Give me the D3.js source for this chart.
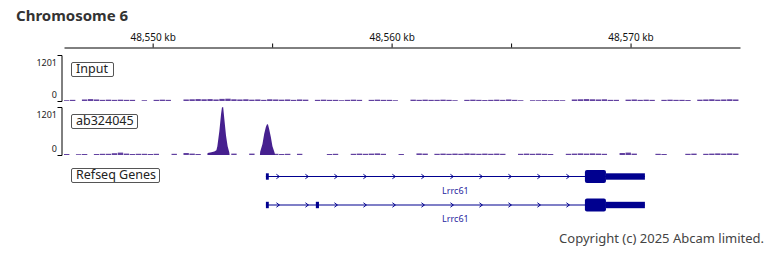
<!DOCTYPE html>
<html>
<head>
    <meta charset="utf-8">
    <title>Chromosome 6 tracks</title>
    <style>
        body { margin: 0; background: #fff; }
        svg { display: block; font-family: "Noto Sans", sans-serif; }
    </style>
    <script src="https://d3js.org/d3.v7.min.js"></script>
</head>
<body>
<div id="chart"></div>
<script>
    // 区间 (kb)
    const regionKb = [48546.29, 48574.58];
    const majorTicks = [48550, 48560, 48570];
    const minorTicks = [48555, 48565];
    const maxVal = 1201;
    const binKb = 0.25;

    // Input 背景信号, 每 0.25 kb 一个值
    const inputValues = [
        20, 30, 0, 40, 50, 40, 30, 35, 30, 35, 30, 30, 0, 20, 0, 30, 35, 30, 0, 0,
        40, 45, 50, 45, 50, 40, 55, 60, 45, 40, 45, 35, 40, 30, 45, 40, 35, 40, 30, 40,
        35, 0, 30, 35, 30, 30, 20, 30, 35, 30, 0, 30, 35, 30, 30, 20, 0, 0, 35, 30,
        35, 30, 30, 35, 30, 20, 0, 30, 35, 30, 25, 30, 35, 30, 40, 30, 20, 0, 20, 20,
        25, 20, 25, 20, 0, 40, 45, 50, 45, 40, 45, 30, 30, 0, 35, 40, 30, 35, 30, 0,
        30, 35, 30, 30, 25, 0, 35, 40, 45, 35, 40, 45, 40
    ];

    // ab324045 背景信号
    const abValues = [
        25, 0, 20, 25, 0, 25, 30, 30, 45, 60, 35, 25, 30, 30, 25, 30, 0, 0, 30, 0,
        50, 35, 25, 0, 0, 0, 0, 0, 35, 0, 0, 35, 0, 0, 0, 30, 25, 30, 0, 30,
        0, 0, 0, 0, 25, 30, 0, 0, 30, 35, 30, 35, 40, 30, 0, 0, 25, 0, 0, 40,
        35, 0, 30, 35, 30, 35, 30, 40, 35, 30, 35, 30, 35, 30, 0, 0, 30, 35, 30, 35,
        30, 25, 0, 0, 30, 35, 40, 35, 40, 35, 30, 0, 0, 50, 60, 35, 0, 0, 0, 30,
        25, 0, 0, 0, 30, 35, 0, 30, 35, 40, 35, 40, 35
    ];

    // ab324045 两个峰 (kb, 值)
    const peak1Kb = [48552.29, 48552.30, 48552.46, 48552.58, 48552.667, 48552.708, 48552.792, 48552.863, 48552.9, 48552.95, 48553.0, 48553.071, 48553.138, 48553.208, 48553.22];
    const peak1Val = [0, 50, 70, 90, 120, 220, 600, 1025, 1190, 1201, 900, 480, 220, 60, 0];
    const peak2Kb = [48554.49, 48554.50, 48554.596, 48554.667, 48554.738, 48554.79, 48554.83, 48554.875, 48554.946, 48555.013, 48555.10, 48555.125];
    const peak2Val = [0, 80, 275, 525, 700, 775, 760, 650, 450, 220, 60, 0];

    // Refseq 基因 Lrrc61 两个转录本
    const transcripts = [
        {
            name: "Lrrc61", start: 48554.74, end: 48570.6,
            exons: [[48554.74, 48554.86, "small"], [48568.09, 48568.97, "cds"], [48568.97, 48570.6, "utr"]]
        },
        {
            name: "Lrrc61", start: 48554.74, end: 48570.6,
            exons: [[48554.74, 48554.86, "small"], [48556.83, 48556.96, "small"], [48568.09, 48568.97, "cds"], [48568.97, 48570.6, "utr"]]
        }
    ];

    const width = 768, height = 256;
    const signalColor = "#46208f";
    const geneColor = "#00008f";

    const svg = d3.select("#chart").append("svg")
        .attr("width", width)
        .attr("height", height);

    svg.append("text")
        .attr("x", 16)
        .attr("y", 21)
        .attr("fill", "#333")
        .style("font-size", "15px")
        .style("font-weight", "bold")
        .text("Chromosome 6");

    const x = d3.scaleLinear().domain(regionKb).range([64, 740]);

    // 顶部坐标轴
    const axis = svg.append("g")
        .attr("transform", "translate(0,47.5)")
        .call(d3.axisTop(x)
            .tickValues(majorTicks.concat(minorTicks))
            .tickSize(4)
            .tickSizeOuter(0)
            .tickFormat(d => majorTicks.includes(d) ? d3.format(",")(d) + " kb" : ""));
    axis.select(".domain").attr("stroke", "#000");
    axis.selectAll("text")
        .attr("y", -6.5)
        .attr("fill", "#111")
        .style("font-size", "10px")
        .style("font-family", "'Noto Sans', sans-serif");

    function labelBox(text, x0, y0, w, h) {
        const g = svg.append("g");
        g.append("rect")
            .attr("x", x0 + 0.5).attr("y", y0 + 0.5)
            .attr("width", w).attr("height", h)
            .attr("rx", 1.5)
            .attr("fill", "#fff")
            .attr("stroke", "#555");
        g.append("text")
            .attr("x", x0 + 5)
            .attr("y", y0 + h - 3)
            .attr("fill", "#222")
            .style("font-size", "12.5px")
            .text(text);
    }

    function drawTrack(name, values, peaks, top, bottom) {
        const y = d3.scaleLinear().domain([0, maxVal]).range([bottom, top]);

        const yAxis = svg.append("g")
            .attr("transform", "translate(61.5,0)")
            .call(d3.axisLeft(y).tickValues([]).tickSizeOuter(4));
        yAxis.select(".domain").attr("stroke", "#000");

        svg.append("text")
            .attr("x", 57).attr("y", y(maxVal) + 11)
            .attr("text-anchor", "end")
            .style("font-size", "9px")
            .attr("fill", "#222")
            .text(maxVal);
        svg.append("text")
            .attr("x", 57).attr("y", y(0) - 3)
            .attr("text-anchor", "end")
            .style("font-size", "9px")
            .attr("fill", "#222")
            .text(0);

        svg.append("g")
            .selectAll("rect")
            .data(values)
            .join("rect")
            .attr("x", (d, i) => x(regionKb[0] + i * binKb))
            .attr("width", x(regionKb[0] + binKb) - x(regionKb[0]) - 0.6)
            .attr("y", d => y(d))
            .attr("height", d => y(0) - y(d))
            .attr("fill", signalColor)
            .attr("opacity", 0.85);

        const area = d3.area()
            .x(d => x(d[0]))
            .y0(y(0))
            .y1(d => y(d[1]));

        peaks.forEach(p => {
            svg.append("path")
                .datum(d3.zip(p.kb, p.val))
                .attr("d", area)
                .attr("fill", signalColor);
        });

        labelBox(name, 71, top + 7, name === "Input" ? 42 : 66, 14);
    }

    drawTrack("Input", inputValues, [], 55, 101);
    drawTrack("ab324045", abValues, [{kb: peak1Kb, val: peak1Val}, {kb: peak2Kb, val: peak2Val}], 107, 155);

    labelBox("Refseq Genes", 71, 168, 88, 14);

    // 基因模型
    const rowY = [176.5, 205];
    transcripts.forEach((t, k) => {
        const cy = rowY[k];
        const g = svg.append("g").attr("fill", geneColor);
        g.append("line")
            .attr("x1", x(t.start)).attr("x2", x(t.end))
            .attr("y1", cy).attr("y2", cy)
            .attr("stroke", geneColor)
            .attr("stroke-width", 1.2);

        // 方向箭头
        const x0 = x(t.start) + 12, x1 = x(t.exons[t.exons.length - 2][0]) - 4;
        for (let px = x0; px < x1; px += 29) {
            g.append("path")
                .attr("d", `M${px - 1.5},${cy - 2.2} L${px + 1.5},${cy} L${px - 1.5},${cy + 2.2}`)
                .attr("fill", "none")
                .attr("stroke", geneColor)
                .attr("stroke-width", 1);
        }

        g.selectAll("rect")
            .data(t.exons)
            .join("rect")
            .attr("x", d => x(d[0]))
            .attr("width", d => Math.max(2.5, x(d[1]) - x(d[0])))
            .attr("y", d => d[2] === "cds" ? cy - 6.5 : cy - 3.2)
            .attr("height", d => d[2] === "cds" ? 13 : 6.4)
            .attr("rx", d => d[2] === "cds" ? 2 : 0);

        svg.append("text")
            .attr("x", x((t.start + t.end) / 2))
            .attr("y", cy + 17)
            .attr("text-anchor", "middle")
            .attr("fill", "#2626a0")
            .style("font-size", "9px")
            .text(t.name);
    });

    svg.append("text")
        .attr("x", 764)
        .attr("y", 243)
        .attr("text-anchor", "end")
        .attr("fill", "#444")
        .style("font-size", "13px")
        .text("Copyright (c) 2025 Abcam limited.");
</script>
</body>
</html>
